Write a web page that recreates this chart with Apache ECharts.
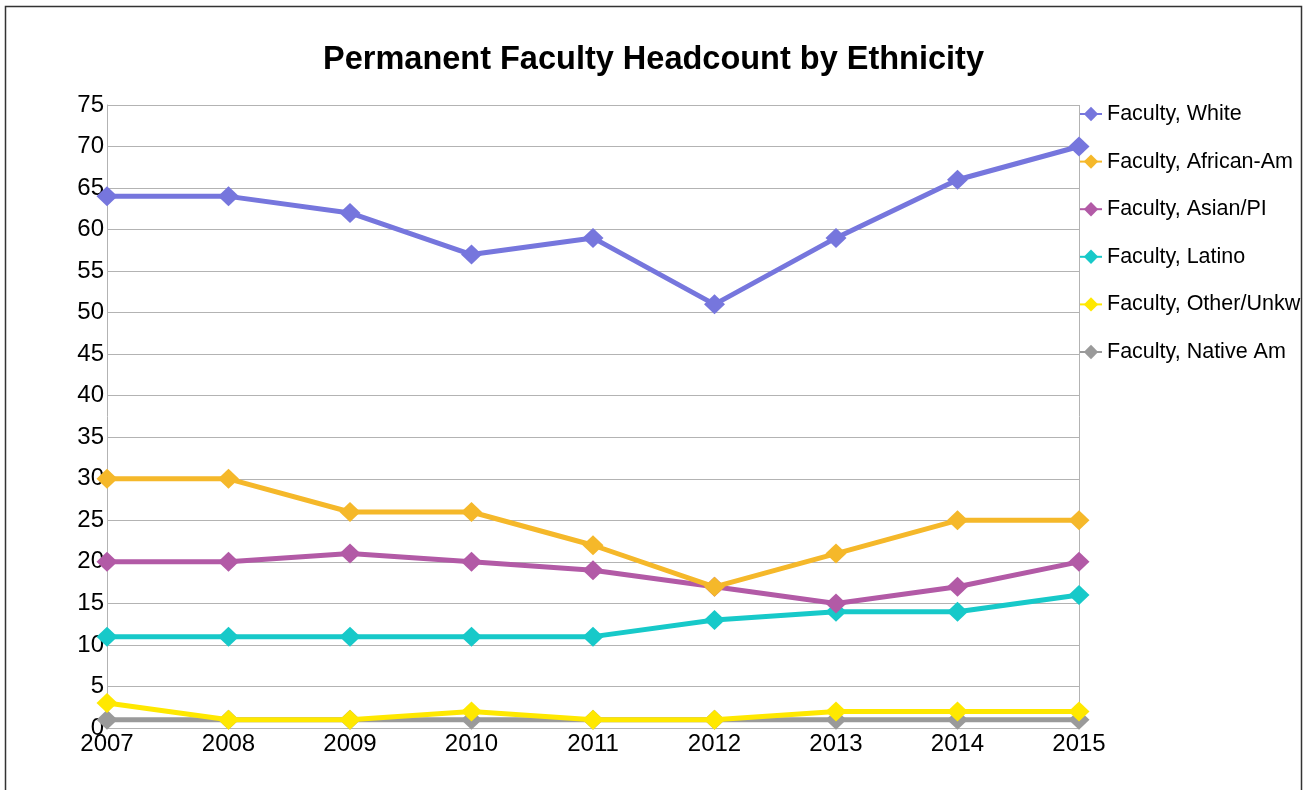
<!DOCTYPE html>
<html>
<head>
<meta charset="utf-8">
<title>Permanent Faculty Headcount by Ethnicity</title>
<script src="https://cdn.jsdelivr.net/npm/echarts@6/dist/echarts.min.js"></script>
<style>
  html, body { margin: 0; padding: 0; background: #fff; }
  #chart { width: 1307px; height: 790px; }
</style>
</head>
<body>
<div id="chart"></div>
<script>
// 年份
const years = ['2007', '2008', '2009', '2010', '2011', '2012', '2013', '2014', '2015']
// 图例
const seriesNames = [
  'Faculty, White',
  'Faculty, African-Am',
  'Faculty, Asian/PI',
  'Faculty, Latino',
  'Faculty, Other/Unkw',
  'Faculty, Native Am',
]
// 各族裔数据
const white = [64, 64, 62, 57, 59, 51, 59, 66, 70]
const africanAm = [30, 30, 26, 26, 22, 17, 21, 25, 25]
const asianPi = [20, 20, 21, 20, 19, 17, 15, 17, 20]
const latino = [11, 11, 11, 11, 11, 13, 14, 14, 16]
const otherUnkw = [3, 1, 1, 2, 1, 1, 2, 2, 2]
const nativeAm = [1, 1, 1, 1, 1, 1, 1, 1, 1]
const seriesData = [white, africanAm, asianPi, latino, otherUnkw, nativeAm]

const colors = ['#7676dd', '#f5b82a', '#b25aa6', '#17c9c9', '#ffe800', '#9a9a9a']
const font = '"Liberation Sans", Arial, sans-serif'

const myChart = echarts.init(document.getElementById('chart'))

const series = seriesData.map((data, index) => ({
  name: seriesNames[index],
  type: 'line',
  data,
  symbol: 'diamond',
  symbolSize: [21, 20],
  z: 10 - index, // 前面的系列压在上面
  lineStyle: { width: 5 },
  itemStyle: { color: colors[index] },
  emphasis: { disabled: true },
  animation: false,
}))

const option = {
  color: colors,
  backgroundColor: '#fff',
  textStyle: { fontFamily: font },
  title: {
    text: 'Permanent Faculty Headcount by Ethnicity',
    left: 'center',
    top: 39,
    textStyle: {
      fontFamily: font,
      fontSize: 32.5,
      fontWeight: 'bold',
      color: '#000',
    },
  },
  legend: {
    data: seriesNames,
    orient: 'vertical',
    left: 1074,
    top: 98,
    itemWidth: 22,
    itemHeight: 18,
    itemGap: 25.6,
    lineStyle: { width: 2 },
    textStyle: {
      fontSize: 21.5,
      color: '#000',
      fontFamily: font,
    },
  },
  grid: {
    left: 107,
    right: 228,
    top: 105,
    bottom: 62,
    containLabel: false,
  },
  xAxis: {
    type: 'category',
    data: years,
    boundaryGap: false,
    axisLine: { lineStyle: { color: '#b3b3b3', width: 1 } },
    axisTick: { show: false },
    axisLabel: {
      color: '#000',
      fontSize: 24,
      margin: 4,
    },
    splitLine: { show: false },
  },
  yAxis: {
    type: 'value',
    min: 0,
    max: 75,
    interval: 5,
    axisLine: { show: true, lineStyle: { color: '#b3b3b3' } },
    axisTick: { show: false },
    axisLabel: { color: '#000', fontSize: 24, margin: 3 },
    splitLine: { lineStyle: { color: '#b3b3b3', width: 1 } },
  },
  graphic: [
    {
      type: 'rect',
      shape: { x: 5.5, y: 6.5, width: 1296, height: 800 },
      style: { fill: 'none', stroke: '#333', lineWidth: 1.5 },
      silent: true,
    },
    {
      type: 'line',
      shape: { x1: 1079.5, y1: 105, x2: 1079.5, y2: 728 },
      style: { stroke: '#b3b3b3', lineWidth: 1 },
      silent: true,
    },
  ],
  series,
}

myChart.setOption(option)
</script>
</body>
</html>
